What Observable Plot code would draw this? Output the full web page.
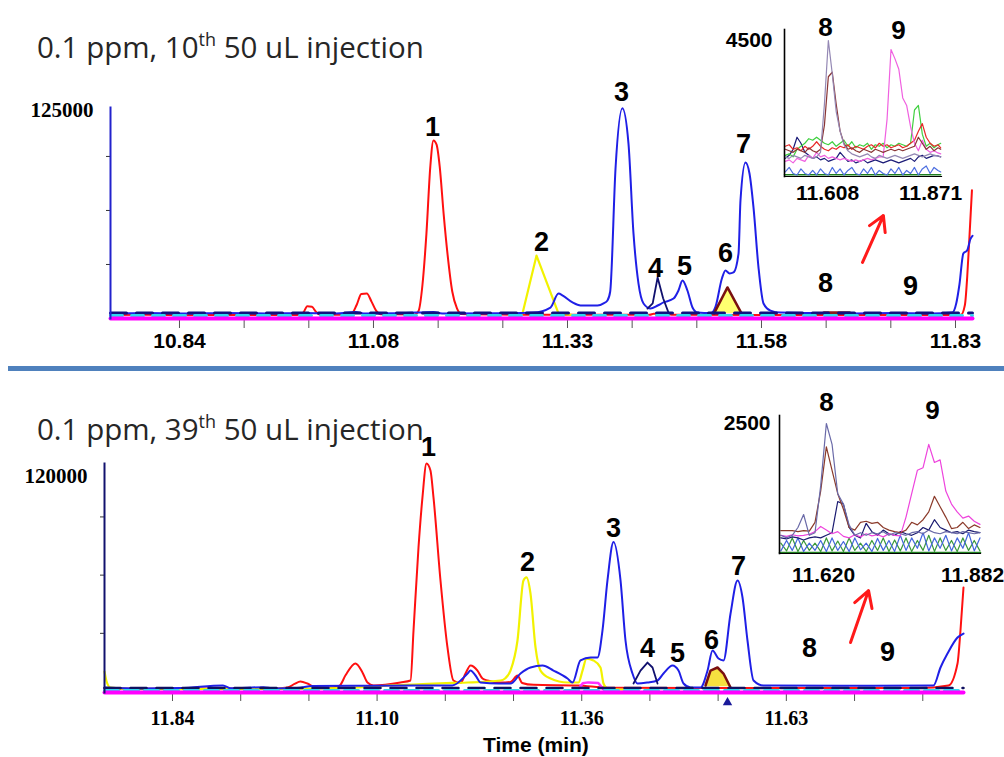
<!DOCTYPE html>
<html><head><meta charset="utf-8">
<script src="https://cdn.jsdelivr.net/npm/d3@7"></script>
<script src="https://cdn.jsdelivr.net/npm/@observablehq/plot@0.6"></script>
<style>
html,body{margin:0;padding:0;background:#fff;}
#wrap{position:relative;width:1004px;height:757px;overflow:hidden;background:#fff;}
#wrap > div{position:absolute;}
.title{font-family:"Open Sans",Lato,sans-serif;font-size:29.5px;line-height:28px;color:#262626;white-space:nowrap;}
.title sup{font-size:18px;vertical-align:0;position:relative;top:-12px;}
</style></head>
<body><div id="wrap"></div>
<script>
// ---------- tick labels ----------
const topTicks = [10.84, 10.9225, 11.005, 11.0875, 11.17, 11.2525, 11.335, 11.4175, 11.5, 11.5825, 11.665, 11.7475, 11.83];
const topTickLabels = ["10.84","","","11.08","","","11.33","","","11.58","","","11.83"];
const botTicks = [10.84, 10.9278, 11.0156, 11.1033, 11.1911, 11.2789, 11.3667, 11.4544, 11.5422, 11.63, 11.7178, 11.8056];
const botTickLabels = ["11.84","","","11.10","","","11.36","","","11.63","",""];
const topYMinor = [32000, 64000, 96000];
const botYMinor = [31000, 61500, 92000];
const topYMax = [125000];
const botYMax = [120000];

// ---------- top panel traces [time (min), intensity] ----------
const topRed = [[10.752,2000],[10.80,2200],[10.85,1900],[10.90,2100],[10.95,2000],[10.99,2100],[10.998,3500],[11.003,7300],[11.009,7000],[11.014,4000],[11.02,2200],[11.05,2300],[11.06,3000],[11.066,8000],[11.072,14500],[11.079,14800],[11.085,10000],[11.091,4500],[11.097,2500],[11.14,2400],[11.145,4500],[11.150,20000],[11.155,50000],[11.160,90000],[11.164,105500],[11.168,103000],[11.172,90000],[11.177,62000],[11.182,38000],[11.188,16000],[11.194,6000],[11.2,2600],[11.25,2300],[11.30,2200],[11.44,2200],[11.445,2800],[11.46,2800],[11.47,2200],[11.6,2000],[11.70,2000],[11.80,2000],[11.837,2200],[11.842,8000],[11.845,25000],[11.848,50000],[11.851,76000]];
const topYellow = [[11.26,2000],[11.2776,3000],[11.2955,37300],[11.3235,3000],[11.34,2200]];
const topBlue = [[10.752,3000],[10.80,3300],[10.85,2900],[10.90,3200],[10.95,3000],[11.00,3300],[11.04,3000],[11.065,3900],[11.075,3000],[11.12,3100],[11.164,3900],[11.175,3000],[11.25,3100],[11.2916,3500],[11.3133,6500],[11.3235,14800],[11.329,13600],[11.3414,9500],[11.3516,7700],[11.3733,7700],[11.381,8900],[11.386,10700],[11.3895,16000],[11.3963,89000],[11.405,124500],[11.4128,103700],[11.4192,50400],[11.4256,20700],[11.432,8900],[11.441,5900],[11.45,7700],[11.4575,9500],[11.4703,11800],[11.4766,16600],[11.4817,22500],[11.488,16600],[11.4945,6500],[11.5009,3500],[11.518,3200],[11.5239,7100],[11.532,23700],[11.5366,28400],[11.5417,26700],[11.5468,27300],[11.5532,38500],[11.5557,69900],[11.5621,92400],[11.5672,85900],[11.5723,65800],[11.5787,30200],[11.5851,8900],[11.594,4700],[11.607,3500],[11.65,3200],[11.70,3000],[11.75,3200],[11.80,3000],[11.826,3500],[11.831,9000],[11.835,20000],[11.840,38500],[11.845,40500],[11.849,47000],[11.8517,49000]];
const topNavyPeak = [[11.437,5900],[11.4437,9000],[11.45,24300],[11.457,12000],[11.4639,3500]];
const topBrownPeak = [[11.522,3000],[11.5391,18400],[11.557,3000]];
const topBrownBase = [[11.662,3400],[11.695,3400]];
const topNavyBase = [[10.752,3300],[11.8517,3300]];
const topCyanBase = [[10.752,1800],[11.8517,1800]];
const topMagentaBase = [[10.752,0],[11.8517,0]];
const topArrow = [{t1:11.7114, v1:33200, t2:11.738, v2:61000}];
const topPeakNames = ["1","2","3","4","5","6","7","8","9"];
const topPeakT = [11.1628, 11.3019, 11.404, 11.4473, 11.4843, 11.5366, 11.5596, 11.6642, 11.7726];
const topPeakV = [113150, 45020, 133900, 29620, 30800, 38500, 103080, 20730, 18960];

// ---------- top inset ----------
const inTopT = [11.50,11.51,11.52,11.53,11.54,11.55,11.56,11.57,11.58,11.59,11.60,11.61,11.62,11.63,11.64,11.65,11.66,11.67,11.68,11.69,11.70,11.71,11.72,11.73,11.74,11.75,11.76,11.77,11.78,11.79,11.80,11.81,11.82,11.83,11.84,11.85,11.86,11.87,11.88,11.89,11.897];
const inTopGray = [650,600,700,650,600,700,650,600,650,800,2400,4500,3400,2150,1500,1050,850,750,700,650,700,750,650,600,700,650,600,650,700,650,600,650,700,750,700,650,700,750,700,680,650];
const inTopDarkRed = [900,850,800,900,850,800,950,850,800,900,1700,3300,3450,2400,1500,1100,900,950,850,800,900,850,800,900,850,800,850,900,850,900,850,900,950,1000,1300,1100,900,1000,850,950,900];
const inTopRed = [1000,1050,900,950,850,1000,900,1000,1150,1000,900,850,950,900,1000,950,1050,900,1000,950,900,1000,1050,950,1100,1000,1050,950,1000,1050,950,1000,1100,1200,1500,1750,1300,1100,1000,1050,950];
const inTopGreen = [700,750,650,900,1000,1100,1250,1200,1300,1200,1100,1050,1150,1000,1100,1200,1000,1150,950,1050,1000,1100,900,1050,1000,1100,950,1050,1000,1100,1050,1000,1100,2200,2350,1400,1000,1100,950,1050,1100];
const inTopMagenta = [500,550,450,600,550,500,700,600,800,650,700,600,650,600,550,600,550,500,550,500,550,600,550,600,650,650,1900,4200,3900,3550,2600,2350,1650,1100,850,1200,900,800,850,780,750];
const inTopNavy = [600,700,900,1300,1100,800,700,600,650,550,600,500,550,600,800,650,500,550,450,500,550,450,500,550,500,450,500,550,500,450,500,550,600,500,650,700,600,650,700,680,650];
const inTopBlue = [150,300,100,50,250,100,50,200,50,250,100,50,300,100,250,50,200,300,100,50,250,100,300,50,200,100,50,250,100,300,50,200,100,300,50,250,350,100,300,200,150];
const inTopDarkGreen = [[11.498,60],[11.897,60]];
const inTopTickVals = [11.608, 11.871];
const inTopYLabel = [4500];
const inTopPeakNames = ["8","9"];
const inTopPeakT = [11.6029, 11.7893];
const inTopPeakV = [4930, 4831];

// ---------- bottom panel traces ----------
const botRed = [[10.7525,2100],[10.80,2000],[10.90,2100],[10.97,2100],[10.988,2600],[10.997,4500],[11.0047,5760],[11.0137,4700],[11.024,2600],[11.04,2300],[11.055,3600],[11.0627,9000],[11.0755,15200],[11.0845,10500],[11.091,5200],[11.0987,3670],[11.1334,5240],[11.1463,6300],[11.1502,32500],[11.1566,76000],[11.1617,102200],[11.1669,120000],[11.172,116300],[11.1759,102200],[11.1849,58700],[11.1939,23600],[11.2016,6300],[11.2107,5000],[11.2171,9950],[11.2235,14150],[11.2325,11500],[11.239,7300],[11.2454,6300],[11.2621,5200],[11.275,5500],[11.284,8900],[11.29,5000],[11.3046,4000],[11.3612,3700],[11.40,2500],[11.60,2300],[11.80,2300],[11.8387,3670],[11.8503,15200],[11.8541,32500],[11.858,55000]];
const botYellow = [[10.7525,11000],[10.755,6000],[10.76,2600],[10.80,1800],[10.90,1800],[11.00,2000],[11.10,3000],[11.1167,3670],[11.15,4200],[11.20,5000],[11.2197,5240],[11.2621,6300],[11.268,7340],[11.275,11500],[11.284,27250],[11.2917,58700],[11.2956,60300],[11.3007,51900],[11.3072,23600],[11.3136,11500],[11.3265,7340],[11.3484,5240],[11.3625,5240],[11.3677,11500],[11.3728,17800],[11.3818,16800],[11.3908,13100],[11.3947,4700],[11.3998,2100],[11.42,1500]];
const botBlue = [[10.7525,2600],[10.80,2100],[10.85,2300],[10.905,3670],[10.915,2200],[10.957,2800],[10.97,2100],[11.00,2300],[11.02,3400],[11.10,3600],[11.20,3700],[11.2197,9950],[11.2235,11500],[11.23,8900],[11.2364,5240],[11.26,4700],[11.275,4700],[11.2879,9950],[11.3007,13100],[11.3162,14150],[11.3303,11500],[11.3484,7340],[11.3548,5240],[11.3651,16800],[11.378,18300],[11.387,18300],[11.3934,32500],[11.3998,58700],[11.4076,78800],[11.4166,58700],[11.423,27250],[11.432,9950],[11.4385,4700],[11.4513,5240],[11.4642,6300],[11.4719,9950],[11.4835,14150],[11.4912,11500],[11.4977,4700],[11.5067,2600],[11.5195,2600],[11.5286,11500],[11.535,22000],[11.5427,17800],[11.5491,16800],[11.5582,41400],[11.5672,58700],[11.5736,49800],[11.58,27250],[11.5878,6300],[11.6006,3670],[11.70,3500],[11.8194,3670],[11.8284,13100],[11.8374,20400],[11.8503,28800],[11.858,30900]];
const botNavyPeak = [[11.4333,4700],[11.4423,11500],[11.4513,15700],[11.4578,13100],[11.4642,4700]];
const botBrownPeak = [[11.526,3670],[11.5324,11500],[11.5414,13100],[11.5491,9950],[11.5582,2600]];
const botMagentaBump = [[11.36,800],[11.368,4800],[11.375,5300],[11.388,5000],[11.395,1500],[11.40,800]];
const botNavyBase = [[10.7525,2400],[11.858,2400]];
const botCyanBase = [[10.7525,1000],[11.858,1000]];
const botMagentaBase = [[10.7525,0],[11.858,0]];
const botMarker = [[11.5543,-5240]];
const botArrow = [{t1:11.7126, v1:26200, t2:11.7358, v2:53400}];
const botPeakNames = ["1","2","3","4","5","6","7","8","9"];
const botPeakT = [11.1695, 11.2969, 11.4076, 11.4513, 11.49, 11.5337, 11.5684, 11.6598, 11.7602];
const botPeakV = [128400, 68100, 85900, 23060, 20440, 27250, 66000, 23060, 20960];

// ---------- bottom inset ----------
const inBotT = [11.545,11.555,11.565,11.575,11.585,11.595,11.605,11.615,11.625,11.635,11.645,11.655,11.665,11.675,11.685,11.695,11.705,11.715,11.725,11.735,11.745,11.755,11.765,11.775,11.785,11.795,11.805,11.815,11.825,11.835,11.845,11.855,11.865,11.875,11.885,11.895];
const inBotGray = [350,300,350,500,750,350,400,1300,2500,2100,1150,950,550,350,400,350,400,380,420,350,400,380,350,400,420,380,450,400,380,420,400,380,420,400,380,400];
const inBotBrown = [440,440,440,420,440,430,600,1200,2050,1600,1150,850,500,450,600,620,580,600,500,450,420,400,450,600,550,650,800,1100,900,700,480,500,600,480,550,500];
const inBotMagenta = [350,330,360,340,350,370,420,520,450,380,420,330,300,360,320,380,340,360,320,380,350,340,700,1150,1600,1650,2100,1750,1800,1200,950,800,680,720,620,560];
const inBotNavy = [300,280,320,300,260,300,320,300,350,400,1000,950,500,350,300,580,420,350,450,380,350,420,380,350,400,500,450,650,500,450,400,420,380,450,420,400];
const inBotBlue = [50,250,60,300,40,200,60,250,40,300,60,230,40,300,70,200,40,290,60,250,40,350,60,300,100,400,50,300,100,350,50,300,100,400,50,300];
const inBotGreen = [200,50,300,40,250,60,200,40,300,50,240,40,300,60,200,40,250,60,300,40,260,50,300,40,250,60,350,40,300,60,250,40,300,60,250,50];
const inBotDarkGreen = [[11.5426,20],[11.896,20]];
const inBotTickVals = [11.620, 11.882];
const inBotYLabel = [2500];
const inBotPeakNames = ["8","9"];
const inBotPeakT = [11.6253, 11.8117];
const inBotPeakV = [2904, 2750];

// ---------- helpers ----------
const SANS = "Liberation Sans, Arial, sans-serif";
const SERIF = "Liberation Serif, Times New Roman, serif";
const zipT = (T, V) => T.map((t, i) => [t, V[i]]);
const peaks = (N, T, V) => N.map((n, i) => ({n, t: T[i], v: V[i]}));
const wrap = document.getElementById("wrap");
function place(node, left, top) {
  const d = document.createElement("div");
  d.style.left = left + "px"; d.style.top = top + "px";
  d.appendChild(node); wrap.appendChild(d); return d;
}
function html(inner, left, top, cls, style) {
  const d = document.createElement("div");
  d.className = cls || ""; d.innerHTML = inner;
  d.style.left = left + "px"; d.style.top = top + "px";
  if (style) Object.assign(d.style, style);
  wrap.appendChild(d); return d;
}
const topLabelMap = new Map(topTicks.map((t, i) => [t, topTickLabels[i]]));
const botLabelMap = new Map(botTicks.map((t, i) => [t, botTickLabels[i]]));
const L = (data, stroke, w, extra) => Plot.line(data, Object.assign({x: d => d[0], y: d => d[1], stroke, strokeWidth: w}, extra || {}));

// ---------- top main ----------
const topPlot = Plot.plot({
  width: 1004, height: 365,
  marginLeft: 110, marginRight: 32, marginTop: 107, marginBottom: 47,
  x: {domain: [10.752, 11.8517], label: null},
  y: {domain: [0, 125000], label: null},
  style: {background: "transparent", overflow: "visible", color: "#000"},
  marks: [
    Plot.axisY(topYMinor, {tickSize: 4, tickFormat: () => "", stroke: "#333", label: null}),
    Plot.axisY(topYMax, {tickSize: 0, tickPadding: 17, tickFormat: "d", fontFamily: SERIF, fontSize: 21, fontWeight: "bold", dy: 3, label: null}),
    Plot.axisX(topTicks, {tickSize: 10, tickPadding: 5, tickFormat: d => topLabelMap.get(d), stroke: "#555", fontFamily: SANS, fontSize: 21, fontWeight: "bold", label: null}),
    Plot.areaY(topBrownPeak, {x: d => d[0], y1: 3000, y2: d => d[1], fill: "#ffff70"}),
    L(topRed, "#ff1010", 2, {curve: "monotone-x"}),
    L(topYellow, "#f2f200", 2.2),
    L(topBlue, "#1f1fe6", 2, {curve: "monotone-x"}),
    L(topNavyPeak, "#10106e", 1.8),
    L(topBrownPeak, "#7a1010", 2.5),
    L(topBrownBase, "#8b1a1a", 3),
    L(topNavyBase, "#101080", 3, {strokeDasharray: "16,10"}),
    L(topCyanBase, "#2fd8ee", 3, {strokeDasharray: "12,9"}),
    L(topMagentaBase, "#ff00ff", 4),
    Plot.frame({anchor: "left", stroke: "#2222cc", strokeWidth: 2}),
    Plot.arrow(topArrow, {x1: "t1", y1: "v1", x2: "t2", y2: "v2", stroke: "#ff1a1a", strokeWidth: 3, headLength: 12}),
    Plot.text(peaks(topPeakNames, topPeakT, topPeakV), {x: "t", y: "v", text: "n", fontFamily: SANS, fontSize: 27, fontWeight: "bold", fill: "#000"})
  ]
});
place(topPlot, 0, 0);

// ---------- top inset ----------
const inTopLines = [
  [inTopBlue, "#4d6fe0"], [inTopNavy, "#1c1c78"], [inTopGreen, "#3fd03f"], [inTopRed, "#e82828"],
  [inTopMagenta, "#f060e0"], [inTopDarkRed, "#8a3535"], [inTopGray, "#9488b4"]
];
const inTop = Plot.plot({
  width: 304, height: 215,
  marginLeft: 84, marginRight: 63, marginTop: 29, marginBottom: 39,
  x: {domain: [11.498, 11.899], label: null},
  y: {domain: [0, 4864], label: null},
  style: {background: "transparent", overflow: "visible", color: "#000"},
  marks: [
    L(inTopDarkGreen, "#1f7f1f", 1.6),
    ...inTopLines.map(([v, c]) => L(zipT(inTopT, v), c, 1.2)),
    Plot.frame({anchor: "left", stroke: "#000", strokeWidth: 1.6}),
    Plot.frame({anchor: "bottom", stroke: "#000", strokeWidth: 1.2}),
    Plot.axisY(inTopYLabel, {tickSize: 0, tickPadding: 12, tickFormat: "d", fontFamily: SANS, fontSize: 21, fontWeight: "bold", label: null}),
    Plot.axisX(inTopTickVals, {tickSize: 0, tickPadding: 9, tickFormat: d => d.toFixed(3), fontFamily: SANS, fontSize: 21, fontWeight: "bold", label: null}),
    Plot.text(peaks(inTopPeakNames, inTopPeakT, inTopPeakV), {x: "t", y: "v", text: "n", fontFamily: SANS, fontSize: 26, fontWeight: "bold", fill: "#000"})
  ]
});
place(inTop, 700, 0);

// ---------- bottom main ----------
const botPlot = Plot.plot({
  width: 1004, height: 377,
  marginLeft: 104, marginRight: 41, marginTop: 83, marginBottom: 65,
  x: {domain: [10.7525, 11.858], label: null},
  y: {domain: [0, 120000], label: null},
  style: {background: "transparent", overflow: "visible", color: "#000"},
  marks: [
    Plot.axisY(botYMinor, {tickSize: 4, tickFormat: () => "", stroke: "#333", label: null}),
    Plot.axisY(botYMax, {tickSize: 0, tickPadding: 17, tickFormat: "d", fontFamily: SERIF, fontSize: 21, fontWeight: "bold", dy: 13, label: null}),
    Plot.axisX(botTicks, {tickSize: 9, tickPadding: 9, tickFormat: d => botLabelMap.get(d), stroke: "#555", fontFamily: SERIF, fontSize: 20, fontWeight: "bold", label: null}),
    Plot.areaY(botBrownPeak, {x: d => d[0], y1: 3000, y2: d => d[1], fill: "#f6e040"}),
    L(botRed, "#ff1010", 2, {curve: "monotone-x"}),
    L(botYellow, "#f2f200", 2.2, {curve: "monotone-x"}),
    L(botBlue, "#1f1fe6", 2, {curve: "monotone-x"}),
    L(botNavyPeak, "#10106e", 1.8),
    L(botBrownPeak, "#7a1010", 2.5),
    L(botMagentaBump, "#ff30ff", 2.5),
    L(botNavyBase, "#101060", 2.5, {strokeDasharray: "16,10"}),
    L(botCyanBase, "#2fd8ee", 3, {strokeDasharray: "14,6"}),
    L(botMagentaBase, "#ff00ff", 4),
    Plot.frame({anchor: "left", stroke: "#12126e", strokeWidth: 2}),
    Plot.dot(botMarker, {x: d => d[0], y: d => d[1], symbol: "triangle", r: 3.5, fill: "#1a1a9a"}),
    Plot.arrow(botArrow, {x1: "t1", y1: "v1", x2: "t2", y2: "v2", stroke: "#ff1a1a", strokeWidth: 3, headLength: 12}),
    Plot.text(peaks(botPeakNames, botPeakT, botPeakV), {x: "t", y: "v", text: "n", fontFamily: SANS, fontSize: 27, fontWeight: "bold", fill: "#000"})
  ]
});
place(botPlot, 0, 380);

// ---------- bottom inset ----------
const inBotLines = [
  [inBotGreen, "#3a9a3a"], [inBotBlue, "#4466dd"], [inBotNavy, "#1a1a70"],
  [inBotMagenta, "#ee44dd"], [inBotBrown, "#8b3a2a"], [inBotGray, "#6a6aa8"]
];
const inBot = Plot.plot({
  width: 304, height: 215,
  marginLeft: 79, marginRight: 24, marginTop: 30, marginBottom: 47,
  x: {domain: [11.5426, 11.896], label: null},
  y: {domain: [0, 2654], label: null},
  style: {background: "transparent", overflow: "visible", color: "#000"},
  marks: [
    L(inBotDarkGreen, "#1f7f1f", 1.6),
    ...inBotLines.map(([v, c]) => L(zipT(inBotT, v), c, 1.2)),
    Plot.frame({anchor: "left", stroke: "#000", strokeWidth: 1.6}),
    Plot.frame({anchor: "bottom", stroke: "#000", strokeWidth: 1.2}),
    Plot.axisY(inBotYLabel, {tickSize: 0, tickPadding: 9, tickFormat: "d", fontFamily: SANS, fontSize: 21, fontWeight: "bold", label: null}),
    Plot.axisX(inBotTickVals, {tickSize: 0, tickPadding: 14, tickFormat: d => d.toFixed(3), fontFamily: SANS, fontSize: 21, fontWeight: "bold", label: null}),
    Plot.text(peaks(inBotPeakNames, inBotPeakT, inBotPeakV), {x: "t", y: "v", text: "n", fontFamily: SANS, fontSize: 26, fontWeight: "bold", fill: "#000"})
  ]
});
place(inBot, 700, 385);

// ---------- titles, separator, axis title ----------
html("0.1 ppm, 10<sup>th</sup> 50 uL injection", 37, 33, "title");
html("0.1 ppm, 39<sup>th</sup> 50 uL injection", 37, 415, "title");
html("", 8, 366, "", {width: "996px", height: "5px", background: "#4f81bd"});
html("Time (min)", 483, 733, "", {fontFamily: SANS, fontSize: "21px", fontWeight: "bold", color: "#000", lineHeight: "24px"});
</script>
</body></html>
